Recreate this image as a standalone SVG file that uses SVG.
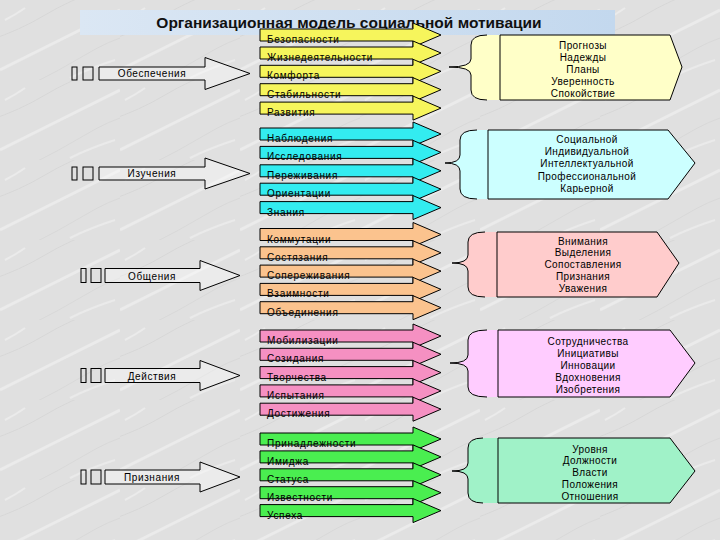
<svg xmlns="http://www.w3.org/2000/svg" xmlns:xlink="http://www.w3.org/1999/xlink" width="720" height="540" viewBox="0 0 720 540">
<defs>
<pattern id="marble" width="120" height="80" patternUnits="userSpaceOnUse">
<rect width="120" height="80" fill="#e0e0e0"/>
<path d="M0,70 Q30,55 60,40 T120,10" fill="none" stroke="#f2f2f2" stroke-width="3" opacity="0.6"/>
<path d="M-10,40 Q20,30 45,15 T100,-10" fill="none" stroke="#cdcdcd" stroke-width="1" opacity="0.5"/>
<path d="M30,85 Q60,70 85,55 T130,35" fill="none" stroke="#cecece" stroke-width="1" opacity="0.45"/>
<path d="M5,20 Q15,15 25,8" fill="none" stroke="#f5f5f5" stroke-width="2" opacity="0.5"/>
<path d="M70,78 Q90,68 115,60" fill="none" stroke="#f3f3f3" stroke-width="2" opacity="0.5"/>
</pattern>
<linearGradient id="band" x1="0" y1="0" x2="1" y2="0">
<stop offset="0" stop-color="#dbe7f4"/>
<stop offset="1" stop-color="#c3d8ee"/>
</linearGradient>
<path id="sa" d="M260,-6H413V-12L441,0L413,12V6H260Z"/>
<style>
.sa{stroke:#000;stroke-width:1}
.big{fill:#ffffff;fill-opacity:0.35;stroke:#000;stroke-width:1}
.sq{fill:none;stroke:#000;stroke-width:1}
.lbl{font-family:"Liberation Sans",Arial,sans-serif;font-size:10px;letter-spacing:0.7px;fill:#000}
.blbl{font-family:"Liberation Sans",Arial,sans-serif;font-size:10px;letter-spacing:0.6px;fill:#000;text-anchor:middle}
.box{stroke:#000;stroke-width:1}
.btxt{font-family:"Liberation Sans",Arial,sans-serif;font-size:10px;letter-spacing:0.4px;fill:#000;text-anchor:middle}
.brace{fill:none;stroke:#000;stroke-width:1}
.y{fill:#f6f55c}.c{fill:#33ecf0}.o{fill:#fbc38e}.p{fill:#f590c2}.g{fill:#4aee50}
</style>
</defs>
<rect width="720" height="540" fill="url(#marble)"/>
<g id="title">
<rect x="80" y="10" width="535" height="25" fill="url(#band)"/>
<text x="349" y="28" font-family="Liberation Sans, Arial, sans-serif" font-size="15.5" font-weight="bold" text-anchor="middle" fill="#111">Организационная модель социальной мотивации</text>
</g>

<g id="connectors">
<use xlink:href="#sa" href="#sa" y="35" class="sa y"/><text class="lbl" x="267" y="43">Безопасности</text>
<use xlink:href="#sa" href="#sa" y="53" class="sa y"/><text class="lbl" x="267" y="61">Жизнедеятельности</text>
<use xlink:href="#sa" href="#sa" y="71.3" class="sa y"/><text class="lbl" x="267" y="79.3">Комфорта</text>
<use xlink:href="#sa" href="#sa" y="89.7" class="sa y"/><text class="lbl" x="267" y="97.7">Стабильности</text>
<use xlink:href="#sa" href="#sa" y="108.1" class="sa y"/><text class="lbl" x="267" y="116.1">Развития</text>
<use xlink:href="#sa" href="#sa" y="134" class="sa c"/><text class="lbl" x="267" y="142">Наблюдения</text>
<use xlink:href="#sa" href="#sa" y="152.4" class="sa c"/><text class="lbl" x="267" y="160.4">Исследования</text>
<use xlink:href="#sa" href="#sa" y="170.8" class="sa c"/><text class="lbl" x="267" y="178.8">Переживания</text>
<use xlink:href="#sa" href="#sa" y="189.2" class="sa c"/><text class="lbl" x="267" y="197.2">Ориентации</text>
<use xlink:href="#sa" href="#sa" y="207.6" class="sa c"/><text class="lbl" x="267" y="215.6">Знания</text>
<use xlink:href="#sa" href="#sa" y="234.5" class="sa o"/><text class="lbl" x="267" y="242.5">Коммутации</text>
<use xlink:href="#sa" href="#sa" y="252.8" class="sa o"/><text class="lbl" x="267" y="260.8">Состязания</text>
<use xlink:href="#sa" href="#sa" y="271.1" class="sa o"/><text class="lbl" x="267" y="279.1">Сопереживания</text>
<use xlink:href="#sa" href="#sa" y="289.4" class="sa o"/><text class="lbl" x="267" y="297.4">Взаимности</text>
<use xlink:href="#sa" href="#sa" y="307.7" class="sa o"/><text class="lbl" x="267" y="315.7">Объединения</text>
<use xlink:href="#sa" href="#sa" y="336" class="sa p"/><text class="lbl" x="267" y="344">Мобилизации</text>
<use xlink:href="#sa" href="#sa" y="354.3" class="sa p"/><text class="lbl" x="267" y="362.3">Созидания</text>
<use xlink:href="#sa" href="#sa" y="372.6" class="sa p"/><text class="lbl" x="267" y="380.6">Творчества</text>
<use xlink:href="#sa" href="#sa" y="390.9" class="sa p"/><text class="lbl" x="267" y="398.9">Испытания</text>
<use xlink:href="#sa" href="#sa" y="409.2" class="sa p"/><text class="lbl" x="267" y="417.2">Достижения</text>
<use xlink:href="#sa" href="#sa" y="439" class="sa g"/><text class="lbl" x="267" y="447">Принадлежности</text>
<use xlink:href="#sa" href="#sa" y="456.9" class="sa g"/><text class="lbl" x="267" y="464.9">Имиджа</text>
<use xlink:href="#sa" href="#sa" y="474.8" class="sa g"/><text class="lbl" x="267" y="482.8">Статуса</text>
<use xlink:href="#sa" href="#sa" y="492.7" class="sa g"/><text class="lbl" x="267" y="500.7">Известности</text>
<use xlink:href="#sa" href="#sa" y="510.6" class="sa g"/><text class="lbl" x="267" y="518.6">Успеха</text>

<path d="M487,35 Q471,35 471,45 L471,59 Q471,67 449,67 Q471,67 471,75 L471,90 Q471,100 487,100 L500,100 L500,35 Z" fill="#ffffc8" stroke="none"/>
<path class="brace" d="M487,35 Q471,35 471,45 L471,59 Q471,67 449,67 Q471,67 471,75 L471,90 Q471,100 487,100"/>
<path d="M477,130 Q460,130 460,140 L460,155 Q460,163 445,163 Q460,163 460,171 L460,189 Q460,199 477,199 L488,199 L488,130 Z" fill="#ccffff" stroke="none"/>
<path class="brace" d="M477,130 Q460,130 460,140 L460,155 Q460,163 445,163 Q460,163 460,171 L460,189 Q460,199 477,199"/>
<path d="M485,232 Q468,232 468,242 L468,255 Q468,263 452,263 Q468,263 468,271 L468,287 Q468,297 485,297 L497,297 L497,232 Z" fill="#ffcccc" stroke="none"/>
<path class="brace" d="M485,232 Q468,232 468,242 L468,255 Q468,263 452,263 Q468,263 468,271 L468,287 Q468,297 485,297"/>
<path d="M487,330 Q468,330 468,340 L468,355 Q468,363 450,363 Q468,363 468,371 L468,387 Q468,397 487,397 L498,397 L498,330 Z" fill="#ffccff" stroke="none"/>
<path class="brace" d="M487,330 Q468,330 468,340 L468,355 Q468,363 450,363 Q468,363 468,371 L468,387 Q468,397 487,397"/>
<path d="M483,438 Q468,438 468,448 L468,463 Q468,471 452,471 Q468,471 468,479 L468,493 Q468,503 483,503 L498,503 L498,438 Z" fill="#a0f2c8" stroke="none"/>
<path class="brace" d="M483,438 Q468,438 468,448 L468,463 Q468,471 452,471 Q468,471 468,479 L468,493 Q468,503 483,503"/>
</g>

<g id="n-obespechenia">
<rect class="sq" x="72" y="67" width="5" height="13"/>
<rect class="sq" x="83" y="67" width="10" height="13"/>
<polygon class="big" points="99,67 205,67 205,57.5 250,73.5 205,89.5 205,80 99,80"/>
<text class="blbl" x="152" y="77">Обеспечения</text>
</g>
<g id="n-izuchenia">
<rect class="sq" x="72" y="167" width="5" height="13"/>
<rect class="sq" x="83" y="167" width="10" height="13"/>
<polygon class="big" points="99,167 205,167 205,158 250,173.5 205,189 205,180 99,180"/>
<text class="blbl" x="152" y="177">Изучения</text>
</g>
<g id="n-obshenia">
<rect class="sq" x="81" y="268.5" width="5" height="14"/>
<rect class="sq" x="91" y="268.5" width="10" height="14"/>
<polygon class="big" points="105,268.5 200,268.5 200,260.5 240,275.5 200,290.5 200,282.5 105,282.5"/>
<text class="blbl" x="152" y="279.5">Общения</text>
</g>
<g id="n-deistvia">
<rect class="sq" x="81" y="368.5" width="5" height="14"/>
<rect class="sq" x="91" y="368.5" width="10" height="14"/>
<polygon class="big" points="105,368.5 200,368.5 200,360.5 240,375.5 200,390.5 200,382.5 105,382.5"/>
<text class="blbl" x="152" y="379.5">Действия</text>
</g>
<g id="n-priznania">
<rect class="sq" x="81" y="470" width="5" height="14"/>
<rect class="sq" x="91" y="470" width="10" height="14"/>
<polygon class="big" points="105,470 200,470 200,462 240,477 200,492 200,484 105,484"/>
<text class="blbl" x="152" y="481">Признания</text>
</g>

<g id="box-1">
<polygon class="box" fill="#ffffc8" points="500,35 670,35 682,67 670,100 500,100"/>
<text class="btxt" x="583" y="48.5">Прогнозы</text>
<text class="btxt" x="583" y="60.5">Надежды</text>
<text class="btxt" x="583" y="72.5">Планы</text>
<text class="btxt" x="583" y="84.5">Уверенность</text>
<text class="btxt" x="583" y="96.5">Спокойствие</text>
</g>
<g id="box-2">
<polygon class="box" fill="#ccffff" points="488,130 668,130 695,163 668,199 488,199"/>
<text class="btxt" x="587" y="143">Социальной</text>
<text class="btxt" x="587" y="155.2">Индивидуальной</text>
<text class="btxt" x="587" y="167.4">Интеллектуальной</text>
<text class="btxt" x="587" y="179.6">Профессиональной</text>
<text class="btxt" x="587" y="191.8">Карьерной</text>
</g>
<g id="box-3">
<polygon class="box" fill="#ffcccc" points="497,232 657,232 679,263 657,297 497,297"/>
<text class="btxt" x="583" y="244.5">Внимания</text>
<text class="btxt" x="583" y="256.3">Выделения</text>
<text class="btxt" x="583" y="268.1">Сопоставления</text>
<text class="btxt" x="583" y="279.9">Признания</text>
<text class="btxt" x="583" y="291.7">Уважения</text>
</g>
<g id="box-4">
<polygon class="box" fill="#ffccff" points="498,330 670,330 695,363 670,397 498,397"/>
<text class="btxt" x="588" y="344.5">Сотрудничества</text>
<text class="btxt" x="588" y="356.5">Инициативы</text>
<text class="btxt" x="588" y="368.5">Инновации</text>
<text class="btxt" x="588" y="380.5">Вдохновения</text>
<text class="btxt" x="588" y="392.5">Изобретения</text>
</g>
<g id="box-5">
<polygon class="box" fill="#a0f2c8" points="498,438 670,438 695,471 670,503 498,503"/>
<text class="btxt" x="590" y="452.5">Уровня</text>
<text class="btxt" x="590" y="464.3">Должности</text>
<text class="btxt" x="590" y="476.1">Власти</text>
<text class="btxt" x="590" y="487.9">Положения</text>
<text class="btxt" x="590" y="499.7">Отношения</text>
</g>
</svg>
